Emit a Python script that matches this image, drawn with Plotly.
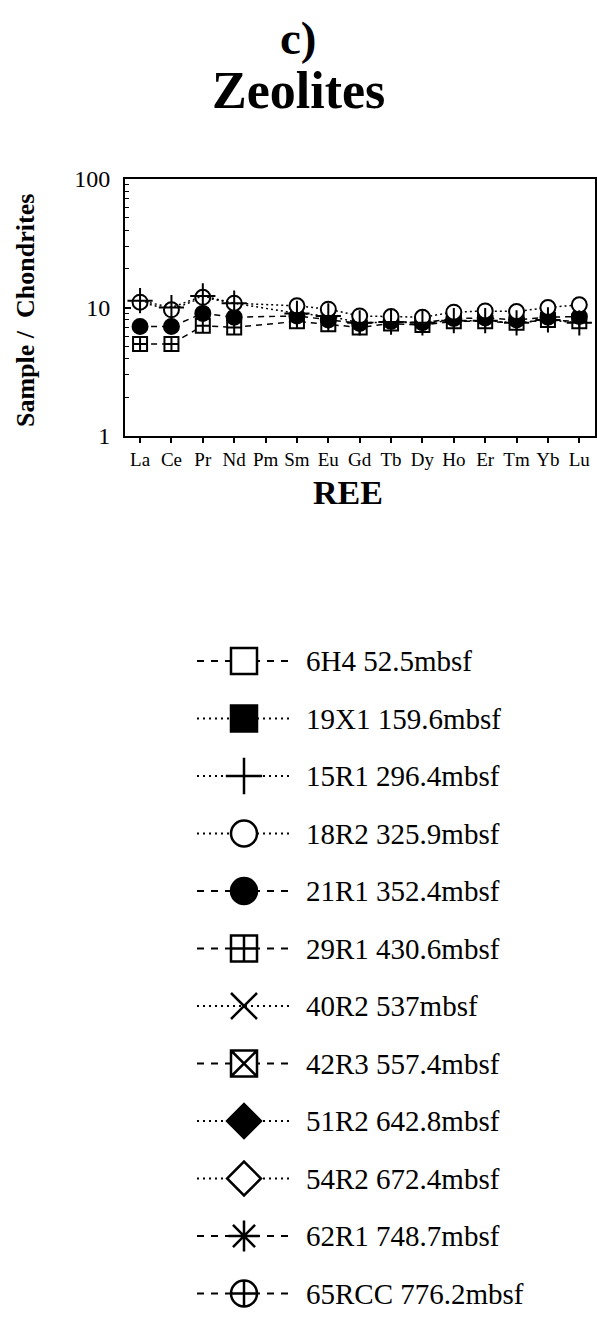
import plotly.graph_objects as go

# Rare-earth elements (Pm is not analysed)
ree = ["La", "Ce", "Pr", "Nd", "Pm", "Sm", "Eu", "Gd", "Tb", "Dy", "Ho", "Er", "Tm", "Yb", "Lu"]

# Chondrite-normalised concentrations (None = not measured)
s18R2 = [11.0, 9.6, 12.0, 10.8, None, 10.3, 9.7, 8.6, 8.5, 8.4, 9.2, 9.4, 9.3, 10.0, 10.5]
s15R1 = [11.3, 10.0, 12.3, 10.8, None, 9.0, 8.6, 7.6, 7.7, 7.6, 7.9, 7.9, 7.6, 8.0, 7.6]
s21R1 = [7.1, 7.1, 9.0, 8.4, None, 8.6, 8.0, 7.5, 7.8, 7.6, 8.2, 8.3, 8.0, 8.4, 8.5]
s29R1 = [5.2, 5.2, 7.2, 7.0, None, 7.8, 7.4, 7.0, 7.5, 7.3, 7.8, 7.8, 7.6, 8.0, 7.8]

# Log-axis ticks
major_ticks = [1, 10, 100]
minor_ticks = [2, 3, 4, 5, 6, 7, 8, 9, 20, 30, 40, 50, 60, 70, 80, 90]

# Sample key: label, symbol, fill, line style
key_labels = ["6H4 52.5mbsf", "19X1 159.6mbsf", "15R1 296.4mbsf", "18R2 325.9mbsf",
              "21R1 352.4mbsf", "29R1 430.6mbsf", "40R2 537mbsf", "42R3 557.4mbsf",
              "51R2 642.8mbsf", "54R2 672.4mbsf", "62R1 748.7mbsf", "65RCC 776.2mbsf"]
key_symbols = ["square", "square", "cross-thin-open", "circle",
               "circle", "square-cross", "x-thin-open", "square-x",
               "diamond", "diamond", "asterisk-open", "circle-cross"]
key_fill = ["white", "black", "black", "white", "black", "white", "black", "white",
            "black", "white", "black", "white"]
key_dash = ["dash", "dot", "dot", "dot", "dash", "dash", "dot", "dash",
            "dot", "dot", "dash", "dash"]

DASH = {"dash": "6px,5px", "dot": "2px,3px"}
KEY_DASH = {"dash": "7px,7px", "dot": "2px,4px"}
W, H = 597, 1319
SERIF = "Liberation Serif, Times New Roman, serif"

fig = go.Figure()

# (values, symbol, fill, line style, marker size)
plot_series = [
    (s29R1, "square-cross", "white", "dash", 14),
    (s21R1, "circle", "black", "dash", 15),
    (s18R2, "circle", "white", "dot", 15),
    (s15R1, "cross-thin-open", "black", "dot", 18),
]
for vals, sym, fill, dash, size in plot_series:
    fig.add_trace(go.Scatter(
        x=ree, y=vals, mode="lines+markers", connectgaps=True,
        line=dict(color="#000000", width=1.5, dash=DASH[dash]),
        marker=dict(symbol=sym, size=size, color=fill, opacity=1,
                    line=dict(color="#000000", width=2)),
        showlegend=False, xaxis="x", yaxis="y"))

# Sample key drawn on a pixel-unit overlay axis
row0, row_step = 661, 57.5
for i, (lab, sym, fill, dash) in enumerate(zip(key_labels, key_symbols, key_fill, key_dash)):
    yr = row0 + i * row_step
    fig.add_trace(go.Scatter(
        x=[197, 291], y=[yr, yr], mode="lines",
        line=dict(color="#000000", width=2, dash=KEY_DASH[dash]),
        showlegend=False, xaxis="x2", yaxis="y2"))
    fig.add_trace(go.Scatter(
        x=[244], y=[yr], mode="markers",
        marker=dict(symbol=sym, size=26, color=fill, opacity=1,
                    line=dict(color="#000000", width=2.5)),
        showlegend=False, xaxis="x2", yaxis="y2"))
    fig.add_annotation(x=304, y=yr, xref="x2", yref="y2", text=lab, showarrow=False,
                       xanchor="left", yanchor="middle",
                       font=dict(family=SERIF, size=29, color="black"))

x0, x1, yt, yb = 125, 595, 179, 436


def px(xp, yp):
    return dict(x=xp / W, y=1 - yp / H, xref="paper", yref="paper",
                xanchor="center", yanchor="middle", showarrow=False)


fig.update_layout(
    width=W, height=H, margin=dict(l=0, r=0, t=0, b=0, autoexpand=False),
    paper_bgcolor="white", plot_bgcolor="rgba(0,0,0,0)",
    font=dict(family=SERIF, color="black"),
    xaxis=dict(domain=[x0 / W, x1 / W], type="category", categoryorder="array",
               categoryarray=ree, range=[-0.48, 14.5], automargin=False,
               showline=True, linecolor="black", linewidth=2, mirror=True,
               ticks="outside", ticklen=5, tickwidth=1.5, tickcolor="black",
               showgrid=False, zeroline=False,
               tickfont=dict(family=SERIF, size=19, color="black")),
    yaxis=dict(domain=[1 - yb / H, 1 - yt / H], type="log", range=[0, 2], automargin=False,
               tickvals=major_ticks, ticktext=[str(v) for v in major_ticks],
               showline=True, linecolor="black", linewidth=2, mirror=True,
               ticks="inside", ticklen=6, tickwidth=1.5, tickcolor="black",
               ticklabelstandoff=8,
               minor=dict(tickvals=minor_ticks, ticks="inside", ticklen=4, tickwidth=1.2,
                          tickcolor="black", showgrid=False),
               showgrid=False, zeroline=False,
               tickfont=dict(family=SERIF, size=24, color="black")),
    xaxis2=dict(domain=[0, 1], range=[0, W], visible=False, fixedrange=True, automargin=False),
    yaxis2=dict(domain=[0, 1], range=[H, 0], visible=False, fixedrange=True, automargin=False),
    annotations=list(fig.layout.annotations) + [
        dict(text="<b>c)</b>", font=dict(family=SERIF, size=47), **px(298, 38)),
        dict(text="<b>Zeolites</b>", font=dict(family=SERIF, size=52), **px(298, 90)),
        dict(text="<b>REE</b>", font=dict(family=SERIF, size=34), **px(348, 492)),
        dict(text="<b>Sample /  Chondrites</b>", textangle=-90,
             font=dict(family=SERIF, size=26), **px(25, 311)),
    ],
)

fig.write_html("out.html")
